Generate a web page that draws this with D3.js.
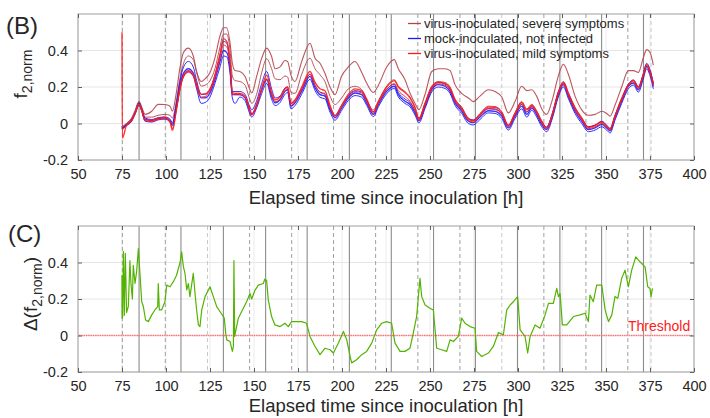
<!DOCTYPE html>
<html><head><meta charset="utf-8">
<script src="https://cdn.jsdelivr.net/npm/d3@7"></script>
<style>
body{margin:0;background:#fff}
svg{display:block}
text{font-family:"Liberation Sans",Arial,Helvetica,sans-serif;fill:#262626}
</style>
</head><body>
<svg id="chart" width="710" height="418"></svg>
<script>
// ---------------- DATA ----------------
const xTicks = [50,75,100,125,150,175,200,225,250,275,300,325,350,375,400];
const yTicks = [-0.2,0,0.2,0.4];
const solidLines = [84.7,108.5,132.6,156.6,180.2,204.2,228,252,275.8,299.7,323.8,347.5,371.3];
const dashedLines = [75.2,99.6,147.5,171.4,195.2,219.1,243.1,267,314.7,338.6,362.4];
const lightDashedLines = [123.6,290.8,375.6];

const timeB = [
 75.0,75.2,77.6,80.5,82.4,84.7,86.2,88.1,91.9,95.6,
 99.4,102.3,103.6,106,108,110,112.7,115.5,117.4,120,
 122.2,125,127.8,130.7,132.6,134.5,136.4,137.7,139.2,142,
 144.9,147.7,148.7,151.5,154.4,157.2,160,162,164.8,167.6,
 169.1,171,173.3,177.1,181.8,184.7,187.5,190.3,193.2,196,
 199.8,203.6,207.4,211.2,214,217.8,220.7,225.4,229.7,232,
 235.8,238.6,241.5,243.7,247.2,251,254.7,258.5,261.4,264.2,
 268,271.8,274.6,278.4,283.2,287,290.8,294.5,298.3,302.1,
 305,307.8,310.6,313.5,316.3,319.2,322.9,325.8,328.6,332.4,
 336.2,340,343.8,347.6,350.4,352.3,355.1,358.9,362.7,365.6,
 368.4,371.2,373.1,375,376.9];

const severe1 = [
 -0.015,-0.015,0.0,0.03,0.07,0.122,0.09,0.05,0.067,0.105,
 0.104,0.095,0.067,0.176,0.31,0.39,0.413,0.37,0.285,0.23,
 0.245,0.28,0.36,0.48,0.525,0.525,0.44,0.33,0.29,0.285,
 0.258,0.185,0.167,0.258,0.358,0.413,0.367,0.30,0.31,0.345,
 0.34,0.265,0.23,0.34,0.44,0.358,0.33,0.275,0.20,0.158,
 0.26,0.31,0.34,0.28,0.222,0.17,0.21,0.31,0.35,0.30,
 0.24,0.167,0.11,0.076,0.16,0.285,0.30,0.30,0.29,0.213,
 0.165,0.14,0.12,0.15,0.185,0.175,0.145,0.058,0.12,0.204,
 0.18,0.185,0.15,0.08,0.05,0.12,0.26,0.325,0.27,0.15,
 0.075,0.045,0.05,0.067,0.055,0.04,0.1,0.2,0.29,0.29,
 0.28,0.36,0.405,0.39,0.32];

const severe2 = [
 -0.02,-0.02,-0.005,0.025,0.06,0.115,0.085,0.035,0.035,0.045,
 0.05,0.045,0.03,0.13,0.25,0.33,0.37,0.35,0.28,0.205,
 0.21,0.235,0.30,0.42,0.49,0.49,0.40,0.26,0.235,0.23,
 0.21,0.13,0.11,0.16,0.28,0.355,0.30,0.245,0.24,0.26,
 0.255,0.17,0.165,0.27,0.358,0.30,0.267,0.23,0.15,0.104,
 0.14,0.19,0.204,0.185,0.13,0.075,0.125,0.205,0.24,0.205,
 0.175,0.145,0.09,0.03,0.115,0.205,0.23,0.225,0.2,0.135,
 0.09,0.03,0.02,0.055,0.095,0.093,0.065,-0.007,0.06,0.12,
 0.08,0.105,0.07,0.015,-0.02,0.045,0.175,0.23,0.17,0.09,
 0.033,-0.017,-0.007,0.013,-0.01,-0.027,0.045,0.14,0.215,0.24,
 0.203,0.273,0.325,0.29,0.22];

const mock1 = [
 -0.02,-0.024,-0.005,0.02,0.058,0.11,0.076,0.022,0.016,0.027,
 0.031,0.016,-0.005,0.10,0.21,0.276,0.30,0.276,0.21,0.14,
 0.14,0.167,0.24,0.34,0.40,0.39,0.30,0.158,0.158,0.158,
 0.14,0.067,0.05,0.10,0.185,0.24,0.15,0.113,0.13,0.176,
 0.185,0.095,0.113,0.176,0.258,0.195,0.158,0.15,0.076,0.031,
 0.085,0.14,0.167,0.158,0.113,0.05,0.104,0.176,0.204,0.158,
 0.122,0.104,0.058,0.016,0.095,0.185,0.213,0.204,0.176,0.113,
 0.067,0.013,0.005,0.035,0.07,0.067,0.04,-0.024,0.04,0.095,
 0.05,0.085,0.049,-0.005,-0.033,0.031,0.158,0.213,0.15,0.067,
 0.013,-0.033,-0.024,-0.005,-0.024,-0.04,0.031,0.122,0.204,0.222,
 0.185,0.258,0.313,0.276,0.204];

const mock2 = [
 -0.015,-0.02,0.0,0.025,0.063,0.115,0.08,0.03,0.022,0.032,
 0.036,0.024,0.005,0.115,0.235,0.31,0.34,0.31,0.235,0.16,
 0.16,0.185,0.265,0.375,0.45,0.44,0.33,0.175,0.175,0.175,
 0.16,0.09,0.075,0.125,0.22,0.285,0.19,0.14,0.15,0.195,
 0.2,0.11,0.125,0.19,0.27,0.21,0.17,0.16,0.09,0.045,
 0.1,0.152,0.18,0.172,0.128,0.065,0.115,0.188,0.215,0.17,
 0.134,0.116,0.07,0.028,0.107,0.197,0.225,0.216,0.188,0.125,
 0.08,0.026,0.018,0.048,0.082,0.08,0.053,-0.012,0.052,0.105,
 0.062,0.095,0.06,0.008,-0.02,0.045,0.17,0.222,0.16,0.08,
 0.027,-0.018,-0.01,0.01,-0.01,-0.028,0.043,0.133,0.215,0.235,
 0.2,0.272,0.33,0.295,0.22];

const mock3 = [
 -0.028,-0.03,-0.012,0.012,0.05,0.1,0.068,0.012,0.008,0.02,
 0.024,0.008,-0.012,0.085,0.19,0.26,0.285,0.26,0.19,0.11,
 0.115,0.145,0.22,0.31,0.37,0.365,0.275,0.14,0.11,0.145,
 0.125,0.052,0.035,0.085,0.165,0.22,0.132,0.098,0.115,0.16,
 0.17,0.08,0.098,0.16,0.242,0.18,0.143,0.135,0.062,0.018,
 0.072,0.126,0.153,0.144,0.1,0.038,0.092,0.164,0.192,0.146,
 0.11,0.092,0.046,0.004,0.083,0.173,0.2,0.192,0.164,0.1,
 0.055,0.0,-0.008,0.022,0.058,0.055,0.028,-0.036,0.028,0.08,
 0.035,0.072,0.036,-0.018,-0.045,0.018,0.145,0.2,0.137,0.055,
 0.0,-0.045,-0.036,-0.018,-0.036,-0.052,0.018,0.11,0.19,0.21,
 0.172,0.245,0.3,0.262,0.19];

const mild1 = [
 0.50,-0.08,-0.008,0.018,0.055,0.105,0.07,0.02,0.018,0.03,
 0.034,0.01,-0.03,0.085,0.2,0.265,0.29,0.27,0.215,0.16,
 0.162,0.19,0.265,0.38,0.465,0.45,0.34,0.17,0.165,0.165,
 0.15,0.075,0.052,0.105,0.195,0.265,0.17,0.13,0.145,0.19,
 0.2,0.11,0.13,0.2,0.285,0.225,0.19,0.18,0.1,0.042,
 0.1,0.16,0.19,0.18,0.135,0.062,0.12,0.2,0.235,0.2,
 0.17,0.14,0.085,0.025,0.11,0.2,0.225,0.22,0.195,0.13,
 0.085,0.025,0.015,0.05,0.09,0.088,0.06,-0.012,0.055,0.115,
 0.075,0.1,0.065,0.01,-0.025,0.04,0.17,0.225,0.165,0.085,
 0.028,-0.022,-0.012,0.008,-0.015,-0.032,0.04,0.135,0.21,0.235,
 0.198,0.268,0.32,0.285,0.215];

const mild2 = [
 -0.025,-0.028,-0.01,0.015,0.052,0.1,0.068,0.015,0.01,0.022,
 0.026,0.005,-0.04,0.075,0.19,0.255,0.28,0.26,0.2,0.145,
 0.148,0.175,0.25,0.355,0.43,0.42,0.32,0.16,0.158,0.158,
 0.142,0.068,0.045,0.098,0.185,0.245,0.158,0.12,0.135,0.18,
 0.19,0.1,0.118,0.185,0.27,0.208,0.172,0.165,0.088,0.035,
 0.09,0.148,0.175,0.168,0.122,0.055,0.11,0.186,0.218,0.18,
 0.148,0.122,0.07,0.018,0.1,0.19,0.218,0.21,0.185,0.12,
 0.075,0.018,0.008,0.042,0.08,0.076,0.05,-0.018,0.046,0.105,
 0.064,0.092,0.056,0.002,-0.03,0.034,0.162,0.218,0.156,0.074,
 0.02,-0.028,-0.018,0.0,-0.02,-0.036,0.035,0.128,0.206,0.228,
 0.19,0.262,0.31,0.28,0.21];

const timeC = [
 75.0,75.05,75.3,75.8,76.3,76.9,77.6,78.6,79.5,80.1,
 80.9,81.4,82.4,83.3,84.3,85.2,86.2,87.1,88.4,90.0,
 91.9,93.7,95.3,95.6,96.2,97.5,99.4,100.4,102.3,104.2,
 106.0,108.0,108.9,109.9,110.8,111.8,112.7,113.6,115.5,116.5,
 117.4,118.4,119.3,120.3,122.2,125.0,126.9,128.8,131.6,133.1,
 133.9,134.5,136.4,137.7,138.3,138.6,139.0,141.1,143.0,145.8,
 147.7,148.7,150.6,152.5,155.3,156.2,157.2,158.1,160.0,161.9,
 164.8,167.6,169.5,171.4,174.2,177.1,179.9,181.8,184.7,187.5,
 190.3,193.2,195.1,197.9,200.8,202.7,204.6,205.5,208.3,211.2,
 214.0,216.9,219.7,222.5,225.4,228.2,230.1,233.0,235.8,238.6,
 240.5,242.4,244.3,245.3,247.2,250.0,251.9,253.8,256.6,259.5,
 261.4,263.3,266.1,268.0,269.9,272.7,275.6,276.5,279.4,283.2,
 286.0,288.9,291.7,293.6,295.5,297.4,299.8,301.2,304.0,305.5,
 306.9,309.7,312.5,315.4,317.3,320.1,322.0,323.0,323.9,325.2,
 327.7,331.5,335.3,338.1,340.0,340.9,342.8,344.7,347.6,349.5,
 351.4,353.3,355.1,356.7,358.9,360.8,362.7,364.6,366.9,369.3,
 372.2,373.7,375.0,375.6,376.4];

const deltaC = [
 0.33,0.095,0.10,0.46,0.11,0.45,0.125,0.16,0.41,0.285,
 0.20,0.385,0.285,0.35,0.476,0.34,0.185,0.16,0.085,0.076,
 0.113,0.14,0.158,0.285,0.14,0.14,0.185,0.276,0.267,0.295,
 0.33,0.40,0.458,0.376,0.34,0.25,0.285,0.213,0.34,0.23,
 0.14,0.058,0.049,0.14,0.213,0.267,0.213,0.158,0.118,0.095,
 0.013,-0.024,-0.033,-0.087,-0.06,0.41,-0.005,0.095,0.131,0.185,
 0.23,0.20,0.249,0.276,0.285,0.31,0.30,0.195,0.104,0.058,
 0.049,0.067,0.049,0.076,0.076,0.076,0.067,-0.005,-0.06,-0.105,
 -0.07,-0.078,-0.096,-0.042,0.022,-0.024,-0.115,-0.15,-0.133,-0.105,
 -0.087,-0.042,0.031,0.067,0.076,0.067,-0.042,-0.087,-0.087,-0.07,
 0.013,0.104,0.313,0.213,0.167,0.149,0.14,-0.07,-0.078,-0.087,
 -0.024,-0.033,-0.005,0.095,0.067,0.049,0.040,-0.087,-0.115,-0.096,
 -0.06,0.016,0.004,0.14,0.167,0.185,0.213,0.031,-0.005,-0.096,
 -0.005,0.058,0.04,0.113,0.176,0.176,0.258,0.213,0.23,0.058,
 0.058,0.104,0.113,0.122,0.076,0.222,0.185,0.276,0.276,0.14,
 0.076,0.113,0.213,0.204,0.313,0.358,0.267,0.358,0.431,0.404,
 0.376,0.267,0.258,0.213,0.258];

const thresholdValue = 0;
const legendLabels = ["virus-inoculated, severe symptoms","mock-inoculated, not infected","virus-inoculated, mild symptoms"];
const colors = {severe:"#b5424c", mock:"#1a1aff", mild:"#ff1a1a", delta:"#52b300", threshold:"#ff7070"};

// ---------------- DRAW ----------------
const svg = d3.select("#chart");
const X0 = 78, X1 = 694;
const panels = [{top:14,bottom:160,titleY:204},{top:226,bottom:372,titleY:412}];
const x = d3.scaleLinear().domain([50,400]).range([X0,X1]);
const fmt = d => d === 0 ? "0" : String(d);

function frame(p){
  const y = d3.scaleLinear().domain([-0.2,0.6]).range([p.bottom,p.top]);
  const g = svg.append("g");
  g.append("g").selectAll("line").data(xTicks).join("line")
    .attr("x1",d=>x(d)).attr("x2",d=>x(d)).attr("y1",p.top).attr("y2",p.bottom)
    .attr("stroke","#ececec").attr("stroke-width",1);
  g.append("g").selectAll("line").data(yTicks).join("line")
    .attr("x1",X0).attr("x2",X1).attr("y1",d=>y(d)).attr("y2",d=>y(d))
    .attr("stroke","#e6e6e6").attr("stroke-width",1);
  g.append("g").selectAll("line").data(lightDashedLines).join("line")
    .attr("x1",d=>x(d)).attr("x2",d=>x(d)).attr("y1",p.top).attr("y2",p.bottom)
    .attr("stroke","#c8c8c8").attr("stroke-width",1).attr("stroke-dasharray","4,3");
  g.append("g").selectAll("line").data(dashedLines).join("line")
    .attr("x1",d=>x(d)).attr("x2",d=>x(d)).attr("y1",p.top).attr("y2",p.bottom)
    .attr("stroke","#a0a0a0").attr("stroke-width",1).attr("stroke-dasharray","4,3");
  g.append("g").selectAll("line").data(solidLines).join("line")
    .attr("x1",d=>x(d)).attr("x2",d=>x(d)).attr("y1",p.top).attr("y2",p.bottom)
    .attr("stroke","#8c8c8c").attr("stroke-width",1.1);
  return {y,g};
}

function axes(p,y){
  const g = svg.append("g");
  g.append("rect").attr("x",X0).attr("y",p.top).attr("width",X1-X0).attr("height",p.bottom-p.top)
    .attr("fill","none").attr("stroke","#a0a0a0").attr("stroke-width",1);
  const ax = g.append("g").attr("transform",`translate(0,${p.bottom})`)
    .call(d3.axisBottom(x).tickValues(xTicks).tickSize(-4).tickPadding(9).tickFormat(d=>d));
  const at = g.append("g").attr("transform",`translate(0,${p.top})`)
    .call(d3.axisTop(x).tickValues(xTicks).tickSize(-4).tickFormat(""));
  const ay = g.append("g").attr("transform",`translate(${X0},0)`)
    .call(d3.axisLeft(y).tickValues(yTicks).tickSize(-4).tickPadding(10).tickFormat(fmt));
  const ar = g.append("g").attr("transform",`translate(${X1},0)`)
    .call(d3.axisRight(y).tickValues(yTicks).tickSize(-4).tickFormat(""));
  [ax,at,ay,ar].forEach(a=>{
    a.select(".domain").remove();
    a.selectAll("line").attr("stroke","#606060");
    a.selectAll("text").attr("fill","#262626").style("font-size","14.5px")
      .style("font-family",'"Liberation Sans",Arial,sans-serif');
  });
  g.append("text").attr("x",(X0+X1)/2).attr("y",p.titleY)
    .attr("text-anchor","middle").style("font-size","18.5px")
    .text("Elapsed time since inoculation [h]");
}

// Panel B
const pB = panels[0];
const fB = frame(pB);
const lineB = ys => d3.line().curve(d3.curveMonotoneX)
  .x((d,i)=>x(timeB[i])).y((d,i)=>fB.y(ys[i]))(ys);
const seriesB = [
  {v:severe2,c:colors.severe,w:1},
  {v:mock3,c:colors.mock,w:1},{v:mock2,c:colors.mock,w:1},{v:mock1,c:colors.mock,w:1.3},
  {v:mild2,c:colors.mild,w:1},{v:mild1,c:colors.mild,w:1.3},
  {v:severe1,c:colors.severe,w:1.1}
];
fB.g.append("g").selectAll("path").data(seriesB).join("path")
  .attr("d",d=>lineB(d.v)).attr("fill","none").attr("stroke",d=>d.c)
  .attr("stroke-width",d=>d.w).attr("stroke-linejoin","round").attr("opacity",0.9);
axes(pB,fB.y);

// legend
const lg = svg.append("g");
const legColors = [colors.severe,colors.mock,colors.mild];
legendLabels.forEach((t,i)=>{
  const yy = 23.5 + i*15;
  lg.append("line").attr("x1",408).attr("x2",421).attr("y1",yy).attr("y2",yy)
    .attr("stroke",legColors[i]).attr("stroke-width",1.3);
  lg.append("text").attr("x",424).attr("y",yy+4.5).style("font-size","13px").text(t);
});

// Panel C
const pC = panels[1];
const fC = frame(pC);
fC.g.append("path")
  .attr("d",d3.line()([[X0+1,fC.y(thresholdValue)],[X1-1,fC.y(thresholdValue)]]))
  .attr("fill","none").style("stroke",colors.threshold).style("stroke-width","1.3px")
  .style("stroke-dasharray","1.5,0.8");
const lineC = d3.line().x((d,i)=>x(timeC[i])).y(d=>fC.y(d));
fC.g.append("path").attr("d",lineC(deltaC)).attr("fill","none")
  .attr("stroke",colors.delta).attr("stroke-width",1.2).attr("stroke-linejoin","round");
axes(pC,fC.y);
svg.append("text").attr("x",628).attr("y",fC.y(thresholdValue)-5)
  .style("font-size","14px").style("fill","#ff2020").text("Threshold");

// y labels
function ylab(cx,cy,parts){
  const t = svg.append("text").attr("transform",`translate(${cx},${cy}) rotate(-90)`)
    .attr("text-anchor","middle");
  parts.forEach(p=>{
    const s = t.append("tspan").text(p.t).style("font-size",p.s+"px");
    if(p.dy) s.attr("dy",p.dy);
  });
}
ylab(27,74,[{t:"f",s:19},{t:"2,norm",s:14,dy:5}]);
ylab(37,294,[{t:"Δ(f",s:19},{t:"2,norm",s:14,dy:5},{t:")",s:19,dy:-5}]);

// panel letters
svg.append("text").attr("x",6).attr("y",34).style("font-size","24px").text("(B)");
svg.append("text").attr("x",8).attr("y",242).style("font-size","24px").text("(C)");
</script>
</body></html>
